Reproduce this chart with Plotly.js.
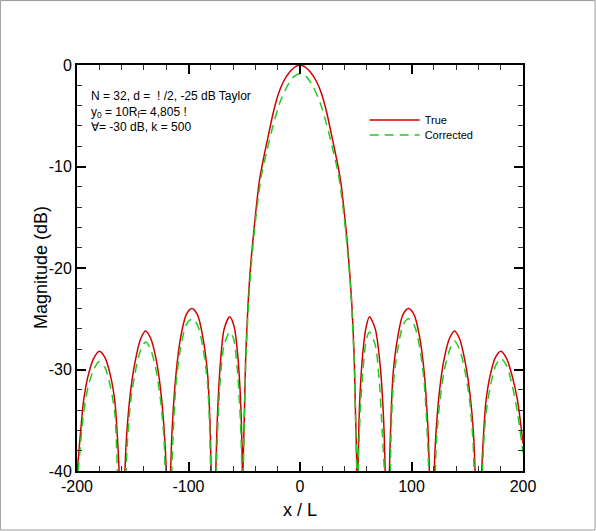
<!DOCTYPE html>
<html>
<head>
<meta charset="utf-8">
<script src="https://cdn.plot.ly/plotly-3.0.1.min.js"></script>
<style>
html,body{margin:0;padding:0;background:#fff;}
#chart{width:596px;height:531px;}
</style>
</head>
<body>
<div id="chart"></div>
<script>
// ---- data ----
const trueX = [-200,-197,-194,-190,-185,-180,-175,-170,-166,-163.5,-162.3,-160,-157,-155.5,-152,-148,-143,-138.5,-134,-129,-125,-121.5,-120,-118,-116,-114.5,-111,-107,-102,-97,-92,-87,-83,-80.8,-79.7,-77.5,-75.5,-74,-71.5,-68,-63,-59,-56,-53.6,-52.5,-51.7,-51.5,-51.1,-49.8,-48.8,-46.8,-44.6,-42,-40,-36.4,-32.8,-28.4,-23.9,-19.4,-14.9,-8.9,-4.4,0,4.4,8.9,14.9,19.4,23.9,28.4,32.8,36.4,40,42,44.4,46.7,48.7,49.7,51.0,51.6,52.0,52.8,53.9,56.3,59.3,62.3,67.5,71.8,74.8,76.4,78.3,80.2,81.5,83.6,87.5,92.3,97.3,102.3,107.3,111.3,114.6,116.0,118.2,120.4,121.8,125.2,129.2,134.2,138.6,143.2,148.2,152.2,155.7,157.0,160,163,164.2,166.7,170.5,175.3,180.2,185.2,190.2,195,200];
const trueY = [-40.3,-36.4,-33.0,-30.6,-28.9,-28.2,-28.8,-30.6,-33.2,-37.2,-40,-55,-40,-36.5,-32.2,-29.3,-27.0,-26.2,-26.9,-29.0,-32.0,-36.5,-40,-55,-40,-35.5,-30.2,-26.8,-24.6,-24.0,-24.6,-26.9,-30.3,-35.0,-40,-55,-40,-34.5,-29.5,-26.0,-24.8,-25.8,-28.4,-32.3,-35.6,-40,-55,-40,-34.0,-29.1,-24.0,-20.2,-17.0,-14.8,-11.4,-9.25,-6.95,-4.65,-2.85,-1.65,-0.65,-0.18,0,-0.18,-0.65,-1.65,-2.85,-4.65,-6.95,-9.25,-11.4,-14.8,-17.0,-20.2,-24.0,-29.1,-34.0,-40,-55,-40,-35.6,-32.3,-28.4,-25.8,-24.8,-26.0,-29.5,-34.5,-40,-55,-40,-35.0,-30.3,-26.9,-24.6,-24.0,-24.6,-26.8,-30.2,-35.5,-40,-55,-40,-36.5,-32.0,-29.0,-26.9,-26.2,-27.0,-29.3,-32.2,-36.5,-40,-55,-40,-37.2,-33.2,-30.6,-28.8,-28.2,-28.9,-30.6,-33.0,-37.3];

const corrX = [-200,-197,-194,-190,-185,-180,-175,-170,-166,-164.6,-163.8,-160,-156,-154.8,-152,-148,-143,-138.5,-134,-129,-125,-122,-121,-118,-115,-113.8,-111,-107,-102,-97,-92,-87,-83,-81,-80.2,-77.5,-75,-73.8,-71.5,-68,-63,-59.5,-56.3,-54,-52.8,-52.2,-51.5,-50.8,-49.8,-48.8,-46.8,-44.6,-40,-34.5,-30,-24,-18,-12,-6,0,6,12,18,24,30,34.5,40,44.6,46.8,48.8,49.8,50.9,51.6,52.3,53.0,54.2,56.6,59.6,62.3,67.5,71.0,73.6,75.6,78.3,81.0,81.8,83.8,87.8,92.5,97.3,102.3,107.3,111.3,114.2,115.4,118.2,121.4,122.5,125.5,129.4,134.4,138.6,143.4,148.4,152.4,155.2,156.2,160,163.8,164.6,166.8,170.6,175.5,180.2,185.2,190.2,195,200];
const corrY = [-41.5,-37.6,-34.2,-31.7,-30.0,-29.2,-29.8,-31.7,-34.4,-37.6,-40,-55,-40,-37.2,-33.3,-30.4,-28.1,-27.3,-28.0,-30.1,-33.1,-36.8,-40,-55,-40,-36.5,-31.2,-27.8,-25.6,-25.0,-25.6,-27.9,-31.3,-36.0,-40,-55,-40,-35.8,-31.0,-27.6,-26.3,-27.0,-29.9,-33.8,-37.0,-40,-55,-40,-34.6,-29.9,-24.8,-20.9,-15.4,-10.8,-8.6,-5.9,-3.7,-2.2,-1.2,-0.85,-1.2,-2.2,-3.7,-5.9,-8.6,-10.8,-15.4,-20.9,-24.8,-29.9,-34.6,-40,-55,-40,-37.0,-33.8,-29.9,-27.0,-26.3,-27.6,-31.0,-35.8,-40,-55,-40,-36.0,-31.3,-27.9,-25.6,-25.0,-25.6,-27.8,-31.2,-36.5,-40,-55,-40,-36.8,-33.1,-30.1,-28.0,-27.2,-28.1,-30.4,-33.3,-37.2,-40,-55,-40,-37.6,-34.4,-31.7,-29.6,-28.9,-29.6,-31.5,-34.2,-38.2];

const xTickVals = [-200,-100,0,100,200];
const xTickText = ['-200','-100','0','100','200'];
const yTickVals = [0,-10,-20,-30,-40];
const yTickText = ['0','-10','-20','-30','-40'];
const seriesNames = ['True','Corrected'];
const xTitle = 'x / L';
const yTitle = 'Magnitude (dB)';
const noteLines = ['N = 32, d =  ! /2, -25 dB Taylor','y<sub>0</sub> = 10R<sub>f</sub>= 4,805 !','\u2200= -30 dB, k = 500'];

const FONT = 'Liberation Sans, Arial, Helvetica, sans-serif';

const traces = [
  {x: trueX, y: trueY, name: seriesNames[0], mode: 'lines', legend: 'legend',
   line: {color: '#d10000', width: 1.5, shape: 'spline', smoothing: 0.8}},
  {x: corrX, y: corrY, name: seriesNames[1], mode: 'lines', legend: 'legend2',
   line: {color: '#22cc22', width: 1.5, dash: '9px,6px', shape: 'spline', smoothing: 0.8}}
];

const legendCommon = {xanchor: 'left', yanchor: 'middle', bgcolor: 'rgba(0,0,0,0)', borderwidth: 0,
  itemwidth: 50, font: {family: FONT, size: 11, color: 'black'}};

const layout = {
  width: 596, height: 531,
  margin: {l: 77, r: 73, t: 65, b: 60},
  xaxis: {
    range: [-200, 200], showline: true, linewidth: 2, linecolor: 'black', mirror: 'ticks',
    ticks: 'inside', ticklen: 9, tickwidth: 2, tickcolor: 'black',
    tickmode: 'array', tickvals: xTickVals, ticktext: xTickText, showgrid: false, zeroline: false,
    tickfont: {family: FONT, size: 16, color: 'black'},
    minor: {dtick: 20, ticks: 'inside', ticklen: 5, tickwidth: 1, tickcolor: '#333'}
  },
  yaxis: {
    range: [-40, 0], showline: true, linewidth: 2, linecolor: 'black', mirror: 'ticks',
    ticks: 'inside', ticklen: 9, tickwidth: 2, tickcolor: 'black',
    tickmode: 'array', tickvals: yTickVals, ticktext: yTickText, showgrid: false, zeroline: false,
    tickfont: {family: FONT, size: 16, color: 'black'},
    minor: {dtick: 2, ticks: 'inside', ticklen: 5, tickwidth: 1, tickcolor: '#333'}
  },
  showlegend: true,
  legend: Object.assign({}, legendCommon, {x: 0.645, y: 0.8645}),
  legend2: Object.assign({}, legendCommon, {x: 0.645, y: 0.8276}),
  shapes: [{type: 'rect', xref: 'paper', yref: 'paper', x0: -0.1717, x1: 1.1616, y0: -0.1453, y1: 1.1587,
            line: {color: '#9a9a9a', width: 1}, fillcolor: 'rgba(0,0,0,0)', layer: 'below'}],
  annotations: [
    {xref: 'paper', yref: 'paper', x: 0.026, y: 0.945, xanchor: 'left', yanchor: 'top',
     align: 'left', showarrow: false, text: noteLines.join('<br>'),
     font: {family: FONT, size: 12, color: 'black'}},
    {xref: 'paper', yref: 'paper', x: 0.5, y: -0.096, xanchor: 'center', yanchor: 'middle',
     showarrow: false, text: xTitle, font: {family: FONT, size: 18, color: 'black'}},
    {xref: 'paper', yref: 'paper', x: -0.0807, y: 0.5, xanchor: 'center', yanchor: 'middle',
     showarrow: false, textangle: -90, text: yTitle, font: {family: FONT, size: 18, color: 'black'}}
  ]
};

Plotly.newPlot('chart', traces, layout, {displayModeBar: false, staticPlot: true});
</script>
</body>
</html>
